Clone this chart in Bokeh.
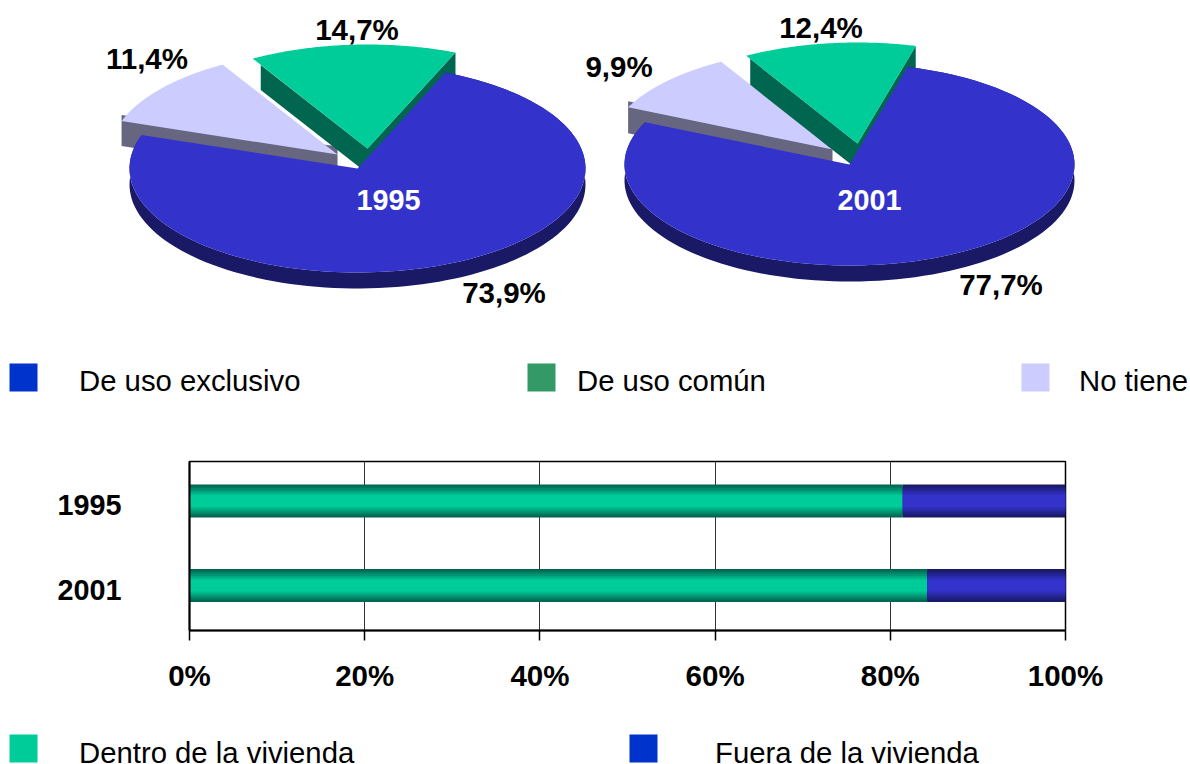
from bokeh.plotting import figure
from bokeh.layouts import column, row
from bokeh.embed import file_html
from bokeh.resources import INLINE
from bokeh.models import Range1d, FixedTicker, ColumnDataSource
from bokeh.core.properties import value
import numpy as np

# ---- data ----
pie_years = ["1995", "2001"]
pie_exclusivo = [73.9, 77.7]
pie_comun = [14.7, 12.4]
pie_no_tiene = [11.4, 9.9]
legend_top = ["De uso exclusivo", "De uso común", "No tiene"]

bar_years = ["2001", "1995"]
bar_dentro = [84.2, 81.4]
bar_fuera = [15.8, 18.6]
bar_ticks = [0, 20, 40, 60, 80, 100]
legend_bottom = ["Dentro de la vivienda", "Fuera de la vivienda"]

# ---- styles ----
FONT = value("Liberation Sans")
BLUE, BLUE_D = "#3333CC", "#191966"
GREEN, GREEN_D = "#00CC99", "#006650"
LILAC, LILAC_D = "#CCCCFF", "#666680"

W, H_TOP, H_BAR, H_LEG = 1190, 440, 265, 59

# pie layout, page pixels
PIES = [
    dict(cx=357, cy=168, rx=228, ry=104, start=67.3, depth=16, wall=25, cut=8,
         green=(10, -20), lilac=(-20, -14),
         pos=[(503.5, 292), (356.5, 29), (146.5, 58)], year=(388, 199)),
    dict(cx=849, cy=164, rx=225, ry=101, start=75.0, depth=16, wall=26, cut=4,
         green=(8, -21), lilac=(-17, -15),
         pos=[(1000.5, 284), (820.5, 27), (618.5, 66)], year=(869, 199)),
]


def bare(fig):
    fig.xaxis.visible = False
    fig.yaxis.visible = False
    fig.grid.visible = False
    fig.outline_line_color = None
    return fig


p_top = bare(figure(width=W, height=H_TOP, x_range=Range1d(0, W), y_range=Range1d(H_TOP, 0),
                    toolbar_location=None, output_backend="svg", min_border=0))


def arc(g, t0, t1, ox=0, oy=0, dy=0, n=120):
    t = np.radians(np.linspace(t0, t1, n))
    return g["cx"] + ox + g["rx"] * np.cos(t), g["cy"] + oy + dy - g["ry"] * np.sin(t)


for g, year, vb, vg, vl in zip(PIES, pie_years, pie_exclusivo, pie_comun, pie_no_tiene):
    s = g["start"]
    green_end = s + vg * 3.6
    lilac_end = green_end + vl * 3.6
    blue_end = s - vb * 3.6
    cx, cy = g["cx"], g["cy"]
    wall = g["wall"]

    # exploded lilac slice: wall, then the top
    ox, oy = g["lilac"]
    ax, ay = cx + ox, cy + oy
    tx, ty = arc(g, lilac_end, lilac_end, ox, oy, n=1)
    p_top.patch([tx[0], tx[0], ax, ax], [ty[0] - 6, ty[0] + wall, ay + wall, ay - 8],
                fill_color=LILAC_D, line_color=None)
    x, y = arc(g, green_end, lilac_end, ox, oy)
    p_top.patch(np.r_[ax, x], np.r_[ay, y], fill_color=LILAC, line_color=None)

    # exploded green slice: wall
    ox, oy = g["green"]
    ax, ay = cx + ox, cy + oy
    lx, ly = arc(g, green_end, green_end, ox, oy, n=1)
    rx_, ry_ = arc(g, s, s, ox, oy, n=1)
    cut = lx[0] + g["cut"]
    cut_y = ly[0] + (ay - ly[0]) * (cut - lx[0]) / (ax - lx[0])
    p_top.patch([cut, cut, ax, rx_[0], rx_[0], ax],
                [cut_y, cut_y + wall, ay + wall, ry_[0] + wall, ry_[0], ay],
                fill_color=GREEN_D, line_color=None)

    # main slice: rim, then the top
    x, y = arc(g, s, blue_end)
    x2, y2 = arc(g, blue_end, s, dy=g["depth"])
    p_top.patch(np.r_[x, x2], np.r_[y, y2], fill_color=BLUE_D, line_color=None)
    p_top.patch(np.r_[cx, x], np.r_[cy, y], fill_color=BLUE, line_color=None)

    # green top
    ox, oy = g["green"]
    x, y = arc(g, s, green_end, ox, oy)
    p_top.patch(np.r_[ax, x], np.r_[ay, y], fill_color=GREEN, line_color=None)

    # labels
    texts = [f"{v:.1f}%".replace(".", ",") for v in (vb, vg, vl)]
    p_top.text([q[0] for q in g["pos"]], [q[1] for q in g["pos"]], text=texts,
               text_font=FONT, text_font_style="bold", text_font_size="29.5px",
               text_color="black", text_align="center", text_baseline="middle")
    p_top.text([g["year"][0]], [g["year"][1]], text=[year], text_font=FONT,
               text_font_style="bold", text_font_size="28.8px", text_color="white",
               text_align="center", text_baseline="middle")

# top legend
p_top.quad(left=[9, 527, 1021], right=[37, 555, 1049], top=[363] * 3, bottom=[391] * 3,
           fill_color=["#0033CC", "#339966", LILAC], line_color=None)
p_top.text([78.5, 576.5, 1078.5], [380] * 3, text=legend_top, text_font=FONT, text_font_size="29.3px",
           text_color="black", text_align="left", text_baseline="middle")

# ---- stacked bars ----
UNIT = 84.5
p_bar = figure(width=W, height=H_BAR, x_range=Range1d(0, 100), y_range=Range1d(-45 / UNIT, 1 + 39.5 / UNIT),
               toolbar_location=None, output_backend="svg",
               min_border_left=189, min_border_right=125, min_border_top=21, min_border_bottom=75)
p_bar.outline_line_color = "black"
p_bar.outline_line_width = 1.5
p_bar.ygrid.visible = False
p_bar.xgrid.ticker = FixedTicker(ticks=bar_ticks)
p_bar.xgrid.grid_line_color = "#333333"
p_bar.xgrid.grid_line_width = 1

xa = p_bar.xaxis[0]
xa.ticker = FixedTicker(ticks=bar_ticks)
xa.major_label_overrides = {t: f"{t}%" for t in bar_ticks}
xa.major_tick_in = 0
xa.major_tick_out = 10
xa.minor_tick_line_color = None
xa.axis_line_color = "black"
xa.axis_line_width = 2
xa.major_tick_line_color = "black"
xa.major_tick_line_width = 1.5
xa.major_label_text_font = "Liberation Sans"
xa.major_label_text_font_style = "bold"
xa.major_label_text_font_size = "29.5px"
xa.major_label_text_color = "black"
xa.major_label_standoff = 18

ya = p_bar.yaxis[0]
rows = list(range(len(bar_years)))
label_at = [r - 0.05 for r in rows]
ya.ticker = FixedTicker(ticks=label_at)
ya.major_label_overrides = dict(zip(label_at, bar_years))
ya.major_tick_in = 0
ya.major_tick_out = 0
ya.minor_tick_line_color = None
ya.axis_line_color = "black"
ya.axis_line_width = 2
ya.major_label_text_font = "Liberation Sans"
ya.major_label_text_font_style = "bold"
ya.major_label_text_font_size = "28.8px"
ya.major_label_text_color = "black"
ya.major_label_standoff = 68
ya.major_label_orientation = "horizontal"


def mix(a, b, f):
    ca = [int(a[i:i + 2], 16) for i in (1, 3, 5)]
    cb = [int(b[i:i + 2], 16) for i in (1, 3, 5)]
    return "#%02x%02x%02x" % tuple(round(u + (v - u) * f) for u, v in zip(ca, cb))


BAR_PX = 33
STEPS = 7
lefts = [0.0] * len(rows)
rights = bar_dentro
for k in range(STEPS):
    h = (BAR_PX - 3.5 * k) / UNIT
    f = k / (STEPS - 1)
    src = ColumnDataSource(dict(y=rows, l=lefts, r=rights))
    p_bar.hbar(y="y", left="l", right="r", height=h, source=src,
               fill_color=mix(GREEN_D, GREEN, f), line_color=None)
    src2 = ColumnDataSource(dict(y=rows, l=bar_dentro,
                                 r=[a + b for a, b in zip(bar_dentro, bar_fuera)]))
    p_bar.hbar(y="y", left="l", right="r", height=h, source=src2,
               fill_color=mix(BLUE_D, BLUE, f), line_color=None)

# ---- bottom legend ----
p_leg = bare(figure(width=W, height=H_LEG, x_range=Range1d(0, W), y_range=Range1d(H_LEG, 0),
                    toolbar_location=None, output_backend="svg", min_border=0))
p_leg.quad(left=[9, 629], right=[37, 657], top=[29, 29], bottom=[57, 57],
           fill_color=[GREEN, "#0033CC"], line_color=None)
p_leg.text([78.5, 714.5], [47, 47], text=legend_bottom, text_font=FONT, text_font_size="29.3px",
           text_color="black", text_align="left", text_baseline="middle")

page = column(row(p_top), row(p_bar), row(p_leg), spacing=0)
open("out.html", "w").write(file_html(page, INLINE))
